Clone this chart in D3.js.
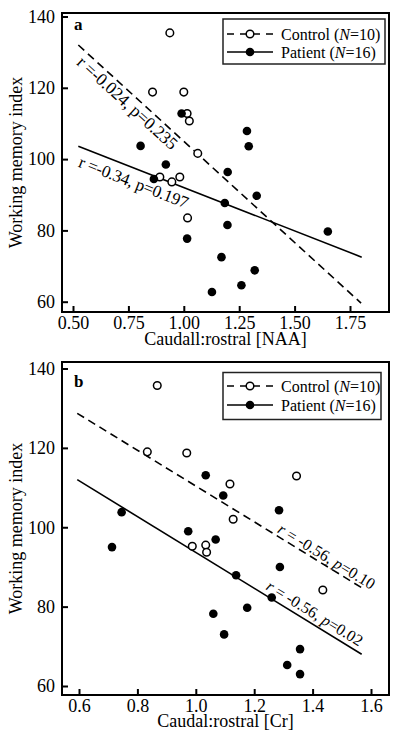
<!DOCTYPE html>
<html><head><meta charset="utf-8">
<script src="https://cdn.jsdelivr.net/npm/d3@7"></script>
<style>
body{margin:0;background:#fff}
svg{display:block}
text{font-family:"Liberation Serif","Times New Roman",serif;fill:#000}
</style>
</head><body>
<svg id="c" width="400" height="744"></svg>
<script>
// ---------- data: panel a (NAA) ----------
const aControlX=[0.937,0.859,1.000,1.015,1.025,1.063,0.892,0.946,0.982,1.017];
const aControlY=[135.4,118.8,118.8,112.8,110.7,101.6,95.0,93.6,95.0,83.5];
const aPatientX=[0.805,0.919,0.865,0.990,1.285,1.293,1.198,1.185,1.329,1.197,1.650,1.015,1.170,1.320,1.127,1.260];
const aPatientY=[103.7,98.5,94.4,112.8,107.9,103.6,96.4,87.7,89.7,81.5,79.7,77.7,72.5,68.8,62.7,64.6];
const aFitControlX=[0.524,1.800], aFitControlY=[132.0,59.6];
const aFitPatientX=[0.524,1.803], aFitPatientY=[103.6,72.5];
const aXTicks=[0.50,0.75,1.00,1.25,1.50,1.75];
const aYTicks=[60,80,100,120,140];
const aLabels={control:"r =-0.024, p=0.235", patient:"r =-0.34, p=0.197"};

// ---------- data: panel b (Cr) ----------
const bControlX=[0.868,0.834,0.969,1.117,1.345,1.128,0.988,1.034,1.037,1.435];
const bControlY=[135.7,119.0,118.7,110.9,112.9,102.0,95.2,95.5,93.7,84.2];
const bPatientX=[1.034,1.094,1.285,0.746,0.974,1.068,0.713,1.138,1.288,1.260,1.176,1.060,1.097,1.357,1.313,1.357];
const bPatientY=[113.1,108.0,104.3,103.8,99.0,96.9,95.0,87.9,90.0,82.3,79.7,78.2,73.0,69.3,65.3,63.0];
const bFitControlX=[0.594,1.574], bFitControlY=[128.7,84.5];
const bFitPatientX=[0.594,1.568], bFitPatientY=[112.0,68.0];
const bXTicks=[0.6,0.8,1.0,1.2,1.4,1.6];
const bYTicks=[60,80,100,120,140];

const yTitle="Working memory index";
const legendNames=["Control","Patient"];
const legendN=["10","16"];

const svg=d3.select("#c");

function panel(cfg){
  const g=svg.append("g");
  const x=d3.scaleLinear().domain(cfg.xTickDom).range(cfg.xTickRange);
  const y=d3.scaleLinear().domain([60,140]).range(cfg.yTickRange);
  const L=62,R=389,T=cfg.top,B=cfg.bottom;

  // axes (inward ticks)
  const ya=g.append("g").attr("transform",`translate(${L},0)`)
    .call(d3.axisLeft(y).tickValues(cfg.yTicks).tickSize(-6).tickPadding(7).tickFormat(d3.format("d")));
  const xa=g.append("g").attr("transform",`translate(0,${B})`)
    .call(d3.axisBottom(x).tickValues(cfg.xTicks).tickSize(-6).tickPadding(cfg.xPad).tickFormat(d3.format(cfg.xFmt)));
  [ya,xa].forEach(a=>{
    a.select(".domain").remove();
    a.selectAll(".tick line").attr("stroke","#000").attr("stroke-width",2);
    a.selectAll(".tick text").attr("font-size",18).style("font-family","Liberation Serif");
  });

  // fit lines
  const line=d3.line().x(d=>x(d[0])).y(d=>y(d[1]));
  g.append("path").datum(d3.zip(cfg.fcX,cfg.fcY)).attr("d",line)
    .attr("fill","none").attr("stroke","#000").attr("stroke-width",1.6).attr("stroke-dasharray","8,5");
  g.append("path").datum(d3.zip(cfg.fpX,cfg.fpY)).attr("d",line)
    .attr("fill","none").attr("stroke","#000").attr("stroke-width",1.6);

  // annotations
  function ann(fx,fy,x0,dy,fs,len,parts){
    const p1=[x(fx[0]),y(fy[0])],p2=[x(fx[1]),y(fy[1])];
    const ang=Math.atan2(p2[1]-p1[1],p2[0]-p1[0])*180/Math.PI;
    const t=(x0-fx[0])/(fx[1]-fx[0]);
    const px=p1[0]+t*(p2[0]-p1[0]), py=p1[1]+t*(p2[1]-p1[1]);
    const tx=g.append("text").attr("transform",`translate(${px},${py}) rotate(${ang})`)
      .attr("y",dy).attr("font-size",fs).attr("textLength",len).attr("lengthAdjust","spacing");
    parts.forEach(pp=>tx.append("tspan").attr("font-style",pp[1]?"italic":"normal").text(pp[0]));
  }
  cfg.anns.forEach(a=>ann(...a));

  // points
  g.append("g").selectAll("circle").data(d3.zip(cfg.cX,cfg.cY)).join("circle")
    .attr("cx",d=>x(d[0])).attr("cy",d=>y(d[1])).attr("r",3.8)
    .attr("fill","#fff").attr("stroke","#000").attr("stroke-width",1.5);
  g.append("g").selectAll("circle").data(d3.zip(cfg.pX,cfg.pY)).join("circle")
    .attr("cx",d=>x(d[0])).attr("cy",d=>y(d[1])).attr("r",4.3).attr("fill","#000");

  // frame
  g.append("rect").attr("x",L).attr("y",T).attr("width",R-L).attr("height",B-T)
    .attr("fill","none").attr("stroke","#000").attr("stroke-width",2);

  // panel letter
  g.append("text").attr("x",74).attr("y",cfg.letterY).attr("font-size",17).attr("font-weight","bold").text(cfg.letter);

  // legend
  const lg=g.append("g");
  lg.append("rect").attr("x",223).attr("y",cfg.legTop).attr("width",cfg.legW).attr("height",cfg.legH)
    .attr("fill","#fff").attr("stroke","#222").attr("stroke-width",1.5);
  legendNames.forEach((nm,i)=>{
    const cy=cfg.legRow[i];
    lg.append("line").attr("x1",227).attr("x2",273).attr("y1",cy).attr("y2",cy)
      .attr("stroke","#000").attr("stroke-width",1.6).attr("stroke-dasharray",i===0?"7,6":null);
    lg.append("circle").attr("cx",250).attr("cy",cy).attr("r",i===0?3.8:4.3)
      .attr("fill",i===0?"#fff":"#000").attr("stroke","#000").attr("stroke-width",i===0?1.5:0);
    const tx=lg.append("text").attr("x",281).attr("y",cy+5.5).attr("font-size",16);
    tx.append("tspan").text(nm+" (");
    tx.append("tspan").attr("font-style","italic").text("N");
    tx.append("tspan").text("="+legendN[i]+")");
  });

  // axis titles
  g.append("text").attr("x",225.5).attr("y",cfg.xTitleY).attr("text-anchor","middle").attr("font-size",18).text(cfg.xTitle);
  g.append("text").attr("transform",`translate(22,${(T+B)/2}) rotate(-90)`).attr("text-anchor","middle")
    .attr("font-size",18).text(yTitle);
}

panel({
  top:13,bottom:312,xTickDom:[0.5,1.75],xTickRange:[73,350],yTickRange:[301.7,16.5],
  xTicks:aXTicks,yTicks:aYTicks,xFmt:".2f",xPad:4,
  fcX:aFitControlX,fcY:aFitControlY,fpX:aFitPatientX,fpY:aFitPatientY,
  cX:aControlX,cY:aControlY,pX:aPatientX,pY:aPatientY,
  anns:[[aFitControlX,aFitControlY,0.56,15.5,17.5,129,[[aLabels.control,false]]],
        [aFitPatientX,aFitPatientY,0.552,19,17,116,[[aLabels.patient,false]]]],
  letter:"a",letterY:30,legTop:19,legW:162,legH:45,legRow:[34,52],
  xTitle:"Caudall:rostral [NAA]",xTitleY:345
});

panel({
  top:362,bottom:695,xTickDom:[0.6,1.6],xTickRange:[79,371],yTickRange:[686,368.5],
  xTicks:bXTicks,yTicks:bYTicks,xFmt:".1f",xPad:4,
  fcX:bFitControlX,fcY:bFitControlY,fpX:bFitPatientX,fpY:bFitPatientY,
  cX:bControlX,cY:bControlY,pX:bPatientX,pY:bPatientY,
  anns:[[bFitControlX,bFitControlY,1.271,-3,16,111,[["r",true],[" = -0.56, ",false],["p",true],["=0.10",false]]],
        [bFitPatientX,bFitPatientY,1.228,-5,16,110,[["r",true],[" = -0.56, ",false],["p",true],["=0.02",false]]]],
  letter:"b",letterY:386.5,legTop:372.5,legW:158,legH:47,legRow:[386,405],
  xTitle:"Caudal:rostral [Cr]",xTitleY:727
});
</script>
</body></html>
